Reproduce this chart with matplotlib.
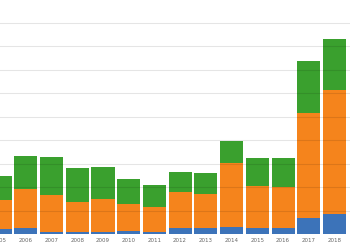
import numpy as np
import matplotlib.pyplot as plt

years = [2005, 2006, 2007, 2008, 2009, 2010, 2011, 2012, 2013, 2014, 2015, 2016, 2017, 2018]
# cumulative tops
blue = [2.0, 2.4, 1.0, 0.7, 0.7, 1.3, 0.9, 2.4, 2.4, 3.1, 2.6, 2.7, 6.9, 8.6]
orange_top = [14.5, 19.1, 16.6, 13.7, 14.9, 12.8, 11.6, 17.7, 17.0, 30.1, 20.6, 20.0, 51.6, 61.3]
total = [24.7, 33.2, 32.6, 28.2, 28.6, 23.3, 20.7, 26.4, 25.8, 39.7, 32.5, 32.2, 73.5, 82.9]

blue = np.array(blue)
orange = np.array(orange_top) - blue
green = np.array(total) - np.array(orange_top)

fig = plt.figure(figsize=(3.5, 2.5), dpi=100)
ax = fig.add_axes([0, 16 / 250, 1, 234 / 250])

w = 0.9
ax.bar(years, blue, width=w, color='#3c73b9')
ax.bar(years, orange, width=w, bottom=blue, color='#f5841c')
ax.bar(years, green, width=w, bottom=blue + orange, color='#3aa02e')

ax.set_xlim(2005.10, 2018.60)
ax.set_ylim(0, 99.6)
ax.set_yticks(np.arange(10, 100, 10))
ax.yaxis.grid(True, color='#000000', alpha=0.1, linewidth=0.8)
ax.set_axisbelow(False)
ax.set_xticks(years)
ax.set_xticklabels([str(y) for y in years], fontsize=4, color='#666666')
ax.tick_params(axis='x', length=0, pad=3)
ax.tick_params(axis='y', length=0, labelleft=False)
for s in ax.spines.values():
    s.set_visible(False)

fig.savefig('out.png', dpi=100)
